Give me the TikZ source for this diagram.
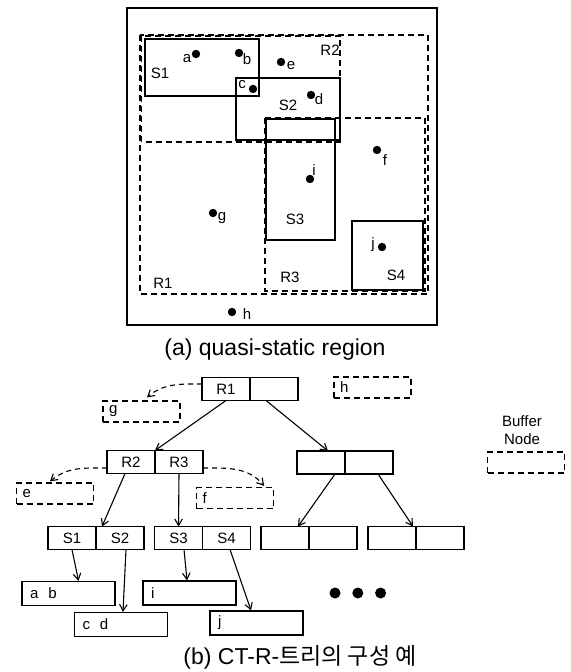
\documentclass[tikz,border=0pt]{standalone}
\usepackage{fontspec}
\setsansfont{Liberation Sans}
\newfontfamily\kofont{Noto Sans CJK KR}
\usetikzlibrary{arrows.meta,positioning}
\newcommand{\lblfont}{\sffamily\fontsize{7.5}{9}\selectfont}
\newcommand{\capfont}{\sffamily\fontsize{11.5}{13}\selectfont}
\tikzset{
  frame/.style={draw=black, line width=0.9pt},
  region/.style={draw=black, line width=0.7pt, dash pattern=on 3pt off 2pt},
  subregion/.style={draw=black, line width=0.7pt},
  pt/.style={circle, fill=black, minimum size=4.2pt, inner sep=0pt},
  lbl/.style={font=\lblfont, inner sep=0pt},
  cell/.style={draw=black, line width=0.6pt, minimum width=24pt, minimum height=11.5pt, inner sep=0pt, outer sep=0pt, font=\lblfont},
  leaf/.style={draw=black, line width=0.6pt, minimum height=12pt, inner xsep=4pt, inner ysep=0pt, text width=38.5pt, align=left, font=\lblfont},
  buffer/.style={draw=black, line width=0.6pt, dash pattern=on 3pt off 2pt, minimum height=10.5pt, inner xsep=3pt, inner ysep=0pt, text width=32.5pt, align=left, font=\lblfont},
  bigdot/.style={circle, fill=black, minimum size=5.5pt, inner sep=0pt},
  arrow/.style={-{Straight Barb[length=3.2pt,width=3.8pt]}, line width=0.55pt},
  dasharrow/.style={arrow, dash pattern=on 2.5pt off 2pt}
}
\begin{document}
\begin{tikzpicture}[x=0.5pt,y=-0.5pt]
\useasboundingbox (0,0) rectangle (570,672);
% (a) quasi-static region
\draw[frame] (127,8) rectangle (437,325);
\draw[region] (140,35) rectangle (428,294);
\draw[region] (141.5,36) rectangle (340,142);
\draw[region] (265,118) rectangle (425,291);
\draw[subregion] (145,39) rectangle (259,96);
\draw[subregion] (236,78) rectangle (340,140);
\draw[subregion] (266,119) rectangle (335,240);
\draw[subregion] (352,221) rectangle (423,290);
\node[lbl] (R1) at (163,283) {R1};
\node[lbl] (R2) at (330,50) {R2};
\node[lbl] (R3) at (290,277) {R3};
\node[lbl] (S1) at (160,73) {S1};
\node[lbl] (S2) at (288,105) {S2};
\node[lbl] (S3) at (295,219) {S3};
\node[lbl] (S4) at (396,275) {S4};
\node[pt] (pa) at (196,54) {};
\node[pt] (pb) at (239,53) {};
\node[pt] (pc) at (253,89) {};
\node[pt] (pd) at (311,95) {};
\node[pt] (pe) at (281,62) {};
\node[pt] (pf) at (377,150) {};
\node[pt] (pg) at (213,213) {};
\node[pt] (ph) at (232,312) {};
\node[pt] (pi) at (310,179) {};
\node[pt] (pj) at (382,247) {};
\node[lbl] (la) at (187,59) {a};
\node[lbl] (lb) at (247,59) {b};
\node[lbl] (lc) at (242,85) {c};
\node[lbl] (ld) at (319,99) {d};
\node[lbl] (le) at (291,66) {e};
\node[lbl] (lf) at (385,160) {f};
\node[lbl] (lg) at (222,218) {g};
\node[lbl] (lh) at (247,314) {h};
\node[lbl] (li) at (314,170) {i};
\node[lbl] (lj) at (373,245) {j};
\node[font=\capfont, inner sep=0pt] (capa) at (275,350) {(a) quasi-static region};
% (b) CT-R-tree
\node[cell] (r1a) at (226,389) {R1};
\node[cell, right=0pt of r1a] (r1b) {};
\node[cell] (r2) at (131,462) {R2};
\node[cell, right=0pt of r2] (r3) {R3};
\node[cell] (ra) at (321,462.5) {};
\node[cell, right=0pt of ra] (rb) {};
\node[cell] (s1) at (72,538) {S1};
\node[cell, right=0pt of s1] (s2) {S2};
\node[cell] (s3) at (178.5,538) {S3};
\node[cell, right=0pt of s3] (s4) {S4};
\node[cell] (ea) at (285,538) {};
\node[cell, right=0pt of ea] (eb) {};
\node[cell] (fa) at (392,538) {};
\node[cell, right=0pt of fa] (fb) {};
\node[buffer] (g) at (141.5,411.5) {g};
\node[buffer] (h) at (372.5,387.5) {h};
\node[buffer] (e) at (55,493.5) {e};
\node[buffer] (f) at (235,498) {f};
\node[leaf] (ab) at (68.5,593.5) {a\hspace{5pt}b};
\node[leaf] (cd) at (121,624.5) {c\hspace{5pt}d};
\node[leaf] (i) at (189.5,593) {i};
\node[leaf] (j) at (256.5,623) {j};
\node[bigdot] (dot1) at (335,593) {};
\node[bigdot, right=5.5pt of dot1] (dot2) {};
\node[bigdot, right=5.5pt of dot2] (dot3) {};
\node[lbl, align=center] (legend) at (522,430) {Buffer\\Node};
\node[buffer] (legbox) at (526,462.5) {};
\draw[arrow] (r1a.south) -- (r2.north east);
\draw[arrow] ([xshift=-4pt]r1b.south) -- ([xshift=3.5pt]ra.north);
\draw[arrow] ([xshift=-3pt]r2.south) -- ([xshift=3pt]s1.north east);
\draw[arrow] (r3.south) -- (s3.north);
\draw[arrow] ([xshift=7pt]ra.south) -- ([xshift=6.5pt]ea.north);
\draw[arrow] ([xshift=4.5pt]rb.south) -- ([xshift=-1.5pt]fa.north east);
\draw[arrow] (s1.south) -- ([xshift=5pt]ab.north);
\draw[arrow] ([xshift=3pt]s2.south) -- ([xshift=1pt]cd.north);
\draw[arrow] ([xshift=2.75pt]s3.south) -- ([xshift=-1.25pt]i.north);
\draw[arrow] ([xshift=1.75pt]s4.south) -- ([xshift=-2.75pt]j.north);
\draw[dasharrow] ([yshift=2.5pt]r1a.west) to[out=180,in=40] ([xshift=2.75pt,yshift=1.5pt]g.north);
\draw[dasharrow] ([yshift=-3pt]r2.west) to[out=180,in=40] ([xshift=-2.5pt,yshift=0.5pt]e.north);
\draw[dasharrow] ([yshift=-3pt]r3.east) to[out=0,in=130] ([xshift=-5pt,yshift=0.5pt]f.north east);
\node[font=\capfont, inner sep=0pt] (capb) at (300,657) {(b) CT-R-{\kofont 트리의 구성 예}};
\end{tikzpicture}
\end{document}
